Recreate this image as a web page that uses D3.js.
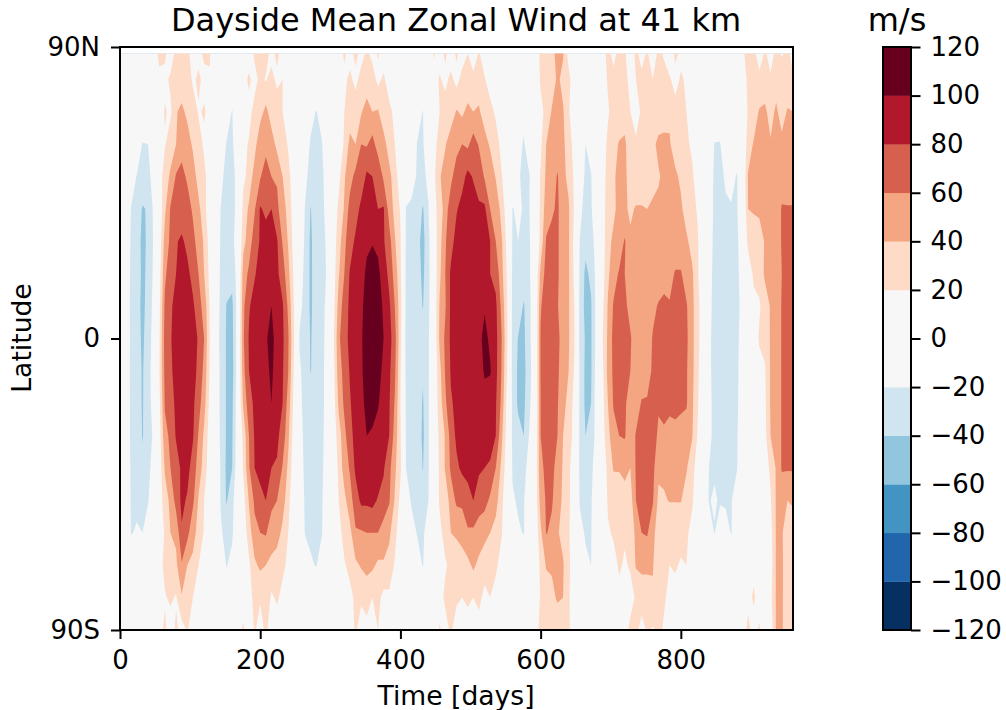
<!DOCTYPE html>
<html><head><meta charset="utf-8">
<script src="https://cdn.jsdelivr.net/npm/d3@7"></script>
<style>html,body{margin:0;padding:0;background:#fff;overflow:hidden}text{font-family:"DejaVu Sans",sans-serif;fill:#000}</style>
</head><body><svg id="c" width="1006" height="710"></svg>
<script>
const title = "Dayside Mean Zonal Wind at 41 km";
const levels = [-120,-100,-80,-60,-40,-20,0,20,40,60,80,100,120];
const bandColors = ["#053061","#2166ac","#4393c3","#92c5de","#d1e5f0","#f7f7f7","#f7f7f7","#fddbc7","#f4a582","#d6604d","#b2182b","#67001f"];
const lats = [88,80,70,60,50,40,30,20,10,0,-10,-20,-30,-40,-50,-60,-70,-80,-90];
const days = [0,8,16,24,32,40,48,56,64,72,80,88,96,104,112,120,128,136,144,152,160,168,176,184,192,200,208,216,224,232,240,248,256,264,272,280,288,296,304,312,320,328,336,344,352,360,368,376,384,392,400,408,416,424,432,440,448,456,464,472,480,488,496,504,512,520,528,536,544,552,560,568,576,584,592,600,608,616,624,632,640,648,656,664,672,680,688,696,704,712,720,728,736,744,752,760,768,776,784,792,800,808,816,824,832,840,848,856,864,872,880,888,896,904,912,920,928,936,944,952,960];
// each line: one time step, wind (m/s) from north to south
const wind = [
[2,2,2,3,3,4,5,8,14,23,12,6,3,2,2,2,2,2,2],
[3,3,2,2,0,-2,-4,-6,-8,-6,-8,-6,-6,-5,-4,-2,0,1,2],
[3,3,2,-2,-10,-21,-23,-24,-24,-24,-24,-24,-24,-23,-22,-21,-6,-2,2],
[4,6,2,-6,-21,-26,-28,-30,-30,-30,-29,-28,-27,-26,-24,-18,-8,-2,1],
[4,4,-1,-21,-25,-42,-46,-44,-46,-44,-42,-42,-41,-36,-30,-20,-6,-1,2],
[6,4,-2,-20,-26,-38,-36,-36,-32,-30,-28,-26,-32,-24,-21,-12,-3,1,3],
[12,8,0,-6,-12,-16,-18,-16,-14,-12,-10,-14,-16,-14,-8,-6,-2,4,6],
[24,16,6,4,4,4,6,10,14,16,18,14,10,8,6,8,10,14,12],
[24,14,22,18,34,36,48,56,64,68,66,62,54,42,32,22,26,18,24],
[8,24,16,34,42,62,64,72,76,78,76,72,64,60,44,40,20,24,8],
[26,30,38,40,62,70,78,80,88,90,88,84,82,70,68,44,36,18,24],
[28,24,46,50,68,66,84,82,92,94,92,90,88,84,84,78,58,38,12],
[26,34,34,52,56,72,74,86,90,92,90,88,86,86,78,66,40,26,22],
[10,16,32,36,52,56,68,72,84,88,86,84,82,72,64,46,36,20,8],
[14,24,18,30,30,46,48,60,66,78,76,68,58,50,38,34,20,16,12],
[24,14,22,16,26,26,38,40,54,60,54,48,36,32,20,18,8,10,4],
[22,18,14,10,8,8,10,14,18,20,18,14,10,6,4,3,2,2,2],
[2,2,0,-2,-4,-6,-8,-8,-8,-8,-8,-8,-6,-4,-2,-1,0,1,1],
[2,0,-4,-10,-14,-21,-22,-23,-24,-26,-24,-24,-24,-22,-22,-18,-8,-2,2],
[4,2,-10,-21,-28,-26,-26,-32,-41,-42,-42,-42,-42,-44,-42,-26,-21,-8,2],
[6,-10,-21,-24,-32,-28,-26,-34,-44,-46,-48,-44,-42,-40,-26,-23,-14,-4,6],
[12,6,2,-1,-8,-12,-8,-10,-10,-8,-8,-6,-6,-4,-2,0,2,4,12],
[18,12,10,14,16,26,34,50,56,58,54,44,26,22,12,8,4,6,24],
[8,24,12,22,26,44,50,64,78,82,80,72,60,58,42,30,16,12,6],
[24,12,28,32,50,58,70,78,88,90,86,84,82,80,64,54,36,26,22],
[22,26,32,56,58,82,82,88,92,96,92,88,86,84,76,60,44,22,12],
[30,18,46,52,72,76,88,90,94,98,94,90,88,86,80,62,40,36,24],
[12,28,30,50,60,80,82,90,100,106,104,100,86,80,66,48,36,16,10],
[26,14,34,34,58,64,82,84,88,92,90,88,84,78,60,50,28,24,6],
[10,20,20,30,40,50,58,70,82,84,82,80,72,58,50,34,26,12,8],
[6,8,12,18,26,32,38,46,56,62,60,52,44,36,26,20,14,6,2],
[2,3,4,4,8,10,12,16,20,22,18,14,10,6,4,4,4,2,2],
[2,2,0,-2,-3,-4,-6,-10,-16,-21,-18,-16,-12,-10,-8,-4,-2,0,2],
[4,2,-4,-10,-16,-21,-23,-25,-25,-25,-25,-25,-25,-24,-22,-21,-8,-2,2],
[2,0,-14,-22,-26,-41,-44,-44,-44,-42,-41,-30,-28,-26,-24,-23,-18,-4,1],
[4,8,-21,-24,-25,-26,-27,-28,-28,-28,-28,-27,-26,-26,-25,-24,-21,-3,2],
[2,2,-12,-21,-24,-25,-26,-26,-26,-26,-26,-26,-25,-24,-22,-21,-8,-1,3],
[2,-1,-3,-6,-10,-12,-16,-18,-14,-12,-10,-10,-8,-6,-4,-2,0,2,2],
[3,3,4,2,4,6,8,8,10,14,10,8,6,4,3,3,2,2,2],
[6,8,10,10,14,24,30,38,48,56,52,44,30,24,20,12,8,6,4],
[24,14,20,22,38,42,56,60,70,74,66,64,54,50,34,28,18,14,8],
[10,26,28,46,52,68,70,82,84,84,82,78,74,62,52,34,26,14,6],
[28,12,36,40,66,70,84,84,90,92,92,90,86,84,70,58,36,24,24],
[10,30,38,60,66,86,88,96,96,98,98,96,92,90,84,58,42,24,8],
[24,26,50,58,84,84,98,102,108,108,106,104,100,94,84,60,46,28,14],
[14,30,40,68,80,92,98,114,116,118,114,106,98,90,86,60,44,20,8],
[22,14,42,50,78,80,96,104,112,112,106,102,92,92,78,60,36,26,20],
[8,24,24,50,56,82,82,92,96,100,96,90,88,82,74,50,38,14,6],
[18,8,26,28,48,52,68,74,84,88,84,82,80,66,62,44,32,16,10],
[6,16,14,20,26,34,42,52,60,68,64,58,52,44,38,26,18,8,4],
[12,6,6,10,12,18,22,24,28,26,22,20,22,24,14,8,4,3,2],
[3,4,2,0,-4,-21,-22,-24,-25,-26,-24,-22,-21,-20,-12,-6,-2,0,2],
[2,3,0,-6,-16,-22,-24,-26,-26,-28,-26,-26,-25,-24,-22,-14,-4,1,4],
[6,4,-8,-21,-21,-26,-34,-32,-30,-28,-28,-28,-26,-25,-24,-21,-12,-2,3],
[4,2,-21,-22,-24,-42,-46,-44,-41,-30,-38,-42,-44,-41,-30,-22,-21,-4,2],
[6,8,4,-6,-16,-21,-26,-26,-24,-22,-22,-22,-22,-22,-20,-14,-6,2,4],
[22,12,6,12,16,12,8,6,4,2,2,4,6,8,6,4,4,6,8],
[12,22,20,30,38,30,32,36,42,44,34,30,24,22,22,16,14,12,22],
[24,14,30,38,50,48,58,60,58,64,62,56,42,42,28,26,18,24,12],
[8,26,26,54,54,74,72,84,84,84,82,78,68,64,48,40,24,20,24],
[24,12,42,52,72,78,88,84,88,88,86,84,84,76,64,42,32,24,8],
[8,28,36,60,72,88,86,92,90,92,90,88,86,84,64,48,30,20,14],
[20,24,46,56,86,84,92,88,92,94,92,90,88,88,70,58,34,26,6],
[6,26,40,70,78,90,88,94,94,94,92,90,88,82,80,56,44,20,12],
[22,24,44,58,74,82,90,88,92,94,92,88,86,84,66,54,34,28,8],
[8,22,26,52,58,84,82,92,98,106,102,94,88,80,68,44,32,12,20],
[18,8,28,36,58,60,80,80,90,96,102,88,86,78,56,40,24,20,6],
[6,14,16,30,38,58,60,74,84,86,86,82,80,60,48,32,24,12,10],
[4,6,8,14,22,32,44,48,56,62,60,56,46,36,26,22,12,6,4],
[3,2,3,2,6,10,14,18,22,24,20,14,12,8,4,3,2,6,2],
[2,1,0,-2,-6,-21,-22,-24,-25,-26,-26,-24,-24,-22,-18,-4,1,2,2],
[2,2,-6,-14,-18,-16,-20,-24,-28,-41,-44,-44,-32,-24,-22,-18,-6,0,3],
[0,-2,-14,-22,-24,-22,-26,-30,-42,-44,-46,-44,-40,-26,-21,-21,-2,1,2],
[4,2,-3,-8,-21,-20,-22,-22,-24,-24,-26,-24,-18,-12,-8,-4,-1,2,2],
[6,8,6,4,2,-2,-4,-6,-6,-6,-6,-4,-2,0,2,2,4,6,10],
[24,22,16,16,22,24,26,46,58,62,62,60,60,58,50,36,24,22,26],
[34,26,24,40,44,50,62,68,72,72,68,62,60,62,62,61,42,28,22],
[38,28,42,46,48,56,68,72,70,70,68,66,64,66,62,56,42,36,24],
[42,44,44,48,62,64,64,64,62,66,64,62,60,52,50,42,44,42,30],
[42,34,42,44,44,46,46,46,44,50,48,44,40,38,36,34,42,40,24],
[12,26,22,30,36,42,42,42,42,42,40,36,34,24,24,22,24,22,22],
[4,6,8,12,16,18,14,16,20,22,18,12,10,8,6,8,8,10,12],
[2,4,2,0,-6,-14,-21,-24,-26,-26,-24,-24,-24,-24,-22,-14,-4,1,2],
[6,2,-8,-20,-24,-28,-34,-44,-46,-42,-44,-44,-40,-26,-24,-22,-16,-2,2],
[2,0,-4,-12,-21,-22,-28,-36,-42,-42,-42,-40,-38,-26,-22,-21,-20,-4,1],
[8,4,2,-1,-4,-6,-10,-12,-12,-12,-10,-8,-8,-6,-4,-2,0,2,4],
[14,10,8,10,12,10,8,10,14,18,14,12,10,8,6,6,8,6,8],
[24,22,18,24,26,30,34,36,42,44,46,40,34,24,22,18,14,12,10],
[16,24,26,32,38,36,44,52,62,66,64,62,52,42,24,22,14,8,14],
[24,22,24,42,44,46,48,62,66,68,66,62,60,42,26,24,22,16,6],
[22,26,30,44,46,44,62,60,64,66,64,62,62,44,34,22,18,8,14],
[10,14,20,26,28,36,44,46,54,62,60,54,46,40,30,24,22,14,24],
[24,20,14,22,24,42,46,44,46,50,50,48,62,62,60,46,42,22,26],
[14,24,22,20,24,42,40,42,44,48,46,62,66,66,64,60,44,30,12],
[22,26,24,30,26,40,42,40,42,46,44,64,68,70,66,62,44,30,22],
[10,20,24,36,36,42,42,46,54,62,66,68,68,66,62,46,42,36,18],
[24,22,30,44,38,44,44,46,62,66,64,62,57,44,36,30,22,28,24],
[18,26,26,48,44,46,54,50,66,70,66,64,58,44,38,26,24,22,18],
[8,22,36,42,46,46,46,52,62,66,64,62,57,44,41,24,20,16,8],
[24,14,26,30,44,46,46,62,64,66,66,62,58,42,41,24,22,14,6],
[16,22,22,26,36,44,46,62,66,66,66,62,56,44,41,26,18,10,4],
[6,18,20,22,26,30,44,50,62,64,62,62,50,42,30,22,20,8,4],
[14,8,12,18,22,26,32,44,46,46,46,44,42,26,22,16,10,6,8],
[4,6,8,10,14,18,22,22,26,26,24,22,18,12,10,8,4,2,2],
[2,2,2,2,2,2,4,4,6,6,4,2,2,0,0,0,2,2,2],
[2,3,2,0,-6,-8,-10,-12,-14,-16,-16,-14,-16,-20,-21,-6,0,2,2],
[2,0,-4,-21,-24,-24,-25,-26,-26,-26,-26,-26,-24,-22,-18,-21,-2,1,4],
[4,2,-8,-21,-24,-26,-28,-30,-30,-30,-30,-28,-26,-25,-22,-8,-2,2,2],
[2,2,2,-4,-18,-22,-24,-26,-26,-28,-28,-26,-26,-24,-22,-14,-2,1,3],
[4,6,2,-8,-16,-21,-24,-28,-30,-34,-36,-30,-26,-24,-21,-21,-6,2,2],
[6,2,-1,-14,-21,-21,-23,-24,-25,-26,-25,-24,-22,-21,-10,-6,-2,2,6],
[18,10,4,0,-4,-8,-10,-12,-14,-8,-6,-6,-4,-2,0,2,4,6,12],
[24,24,22,30,42,40,26,6,4,2,4,4,6,4,6,6,8,16,24],
[24,26,28,42,44,42,30,24,14,10,10,12,8,8,10,14,16,22,14],
[12,24,42,46,46,44,30,26,18,22,14,14,12,14,12,8,8,14,22],
[22,28,44,44,46,44,42,44,28,26,18,16,14,10,8,8,14,10,8],
[14,22,32,42,46,42,60,44,42,42,42,42,40,24,18,12,10,14,6],
[24,30,44,44,44,46,46,44,42,42,42,42,42,42,42,42,42,42,42],
[18,32,30,46,48,62,62,60,62,62,62,62,62,62,46,42,44,44,44],
[24,26,42,44,44,62,60,62,62,66,64,62,62,62,40,30,26,24,22],
[14,22,40,42,44,62,64,66,68,68,68,68,66,62,42,32,30,24,22]
];
const xTicks = [0,200,400,600,800];
const latTicks = [90,0,-90];
const latLabels = ["90N","0","90S"];
const xLabel = "Time [days]", yLabel = "Latitude", unit = "m/s";

const svg = d3.select("#c");
const L=120,R=793,T=47,B=630,CL=883,CR=911;
const x = d3.scaleLinear().domain([0,960]).range([L,R]);
const y = d3.scaleLinear().domain([-90,90]).range([B,T]);
const cy = d3.scaleLinear().domain([-120,120]).range([B,T]);

const n = days.length, m = lats.length;
const grid = new Array(n*m);
days.forEach((_,i)=>lats.forEach((_,j)=>{grid[j*n+i]=wind[i][j];}));
const colPx = d3.scaleLinear().domain(days.map((_,i)=>i+0.5)).range(days.map(d=>x(d))).clamp(true);
const rowPx = d3.scaleLinear().domain(lats.map((_,j)=>j+0.5)).range(lats.map(d=>y(d))).clamp(true);
const path = d3.geoPath(d3.geoTransform({point(a,b){this.stream.point(colPx(a),rowPx(b));}}));
const contours = d3.contours().size([n,m]);

svg.append("rect").attr("x",x(0)).attr("y",y(lats[0])).attr("width",x(960)-x(0)).attr("height",y(-90)-y(lats[0])).attr("fill",bandColors[0]);
const g = svg.append("g");
bandColors.forEach((c,k)=>{
  if(k===0) return;
  const cont = contours.contour(grid, levels[k]);
  g.append("path").attr("d",path(cont)).attr("fill",c).attr("fill-rule","evenodd");
});

function styleAxis(a){
  a.selectAll("path.domain").remove();
  a.selectAll("line").attr("stroke","#000").attr("stroke-width",2);
  a.selectAll("text").attr("font-size",26).attr("font-family","DejaVu Sans").attr("fill","#000");
}
const ax = svg.append("g").attr("transform",`translate(0,${B})`).call(d3.axisBottom(x).tickValues(xTicks).tickSize(9).tickPadding(12).tickFormat(d3.format("d")));
styleAxis(ax);
const ay = svg.append("g").attr("transform",`translate(${L},0)`).call(d3.axisLeft(y).tickValues(latTicks).tickSize(9).tickPadding(11).tickFormat((d,i)=>latLabels[i]));
styleAxis(ay);
svg.append("rect").attr("x",L).attr("y",T).attr("width",R-L).attr("height",B-T).attr("fill","none").attr("stroke","#000").attr("stroke-width",2);

svg.append("text").attr("x",456).attr("y",31).attr("text-anchor","middle").attr("font-size",32).text(title);
svg.append("text").attr("x",456).attr("y",705).attr("text-anchor","middle").attr("font-size",26.6).text(xLabel);
svg.append("text").attr("transform","translate(31,338) rotate(-90)").attr("text-anchor","middle").attr("font-size",26.6).text(yLabel);
svg.append("text").attr("x",897).attr("y",31).attr("text-anchor","middle").attr("font-size",32).text(unit);

svg.append("g").selectAll("rect").data(bandColors).join("rect")
  .attr("x",CL).attr("width",CR-CL)
  .attr("y",(d,i)=>cy(levels[i+1])).attr("height",(d,i)=>cy(levels[i])-cy(levels[i+1])+0.3).attr("fill",d=>d);
const ac = svg.append("g").attr("transform",`translate(${CR},0)`).call(d3.axisRight(cy).tickValues(levels).tickSize(9.5).tickPadding(10));
styleAxis(ac);
svg.append("rect").attr("x",CL).attr("y",T).attr("width",CR-CL).attr("height",B-T).attr("fill","none").attr("stroke","#000").attr("stroke-width",2);
</script></body></html>
